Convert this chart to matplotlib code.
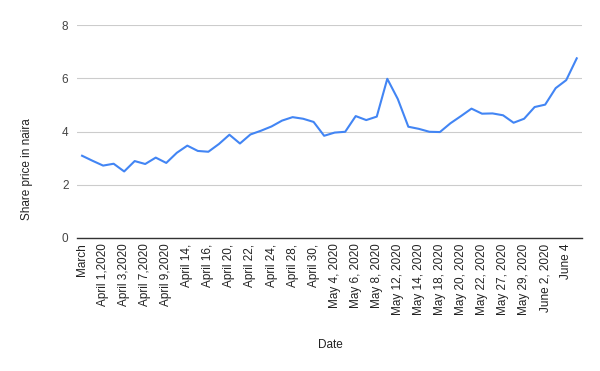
import matplotlib
matplotlib.use("Agg")
import matplotlib.pyplot as plt

# Share price data (one point per trading day)
dates = ["March", "", "April 1,2020", "", "April 3,2020", "", "April 7,2020", "",
         "April 9,2020", "", "April 14,", "", "April 16,", "", "April 20,", "",
         "April 22,", "", "April 24,", "", "April 28,", "", "April 30,", "",
         "May 4, 2020", "", "May 6, 2020", "", "May 8, 2020", "", "May 12, 2020", "",
         "May 14, 2020", "", "May 18, 2020", "", "May 20, 2020", "", "May 22, 2020", "",
         "May 27, 2020", "", "May 29, 2020", "", "June 2, 2020", "", "June 4", ""]
price = [3.09, 2.90, 2.72, 2.79, 2.50, 2.89, 2.78, 3.02, 2.82, 3.20, 3.47, 3.27,
         3.24, 3.53, 3.88, 3.55, 3.89, 4.03, 4.19, 4.41, 4.54, 4.48, 4.36, 3.84,
         3.96, 3.99, 4.58, 4.43, 4.56, 5.98, 5.22, 4.18, 4.10, 3.99, 3.98, 4.31,
         4.58, 4.86, 4.67, 4.68, 4.61, 4.33, 4.48, 4.92, 5.01, 5.63, 5.93, 6.75]

plt.rcParams['font.family'] = ['Liberation Sans', 'DejaVu Sans']

fig = plt.figure(figsize=(6, 3.71), dpi=100)
ax = fig.add_axes([0.128, 0.3585, 0.842, 0.574])

x = list(range(len(price)))
ax.plot(x, price, color="#4285F4", linewidth=1.5)

ax.set_xlim(-0.5, len(price) - 0.5)
ax.set_ylim(0, 8)
ax.set_yticks([0, 2, 4, 6, 8])
ax.grid(axis="y", color="#cccccc", linewidth=0.8)
ax.set_axisbelow(True)

# only every other date is labelled
ax.set_xticks(x[::2])
ax.set_xticklabels(dates[::2], rotation=90, fontsize=8.5, color="#222222")
ax.tick_params(axis="x", length=0, pad=4)
ax.tick_params(axis="y", length=0, pad=6, labelsize=8.5, labelcolor="#444444")

for s in ["top", "right", "left"]:
    ax.spines[s].set_visible(False)
ax.spines["bottom"].set_color("#333333")
ax.spines["bottom"].set_linewidth(1)

fig.text(0.045, (371 - 169) / 371, "Share price in naira", rotation=90,
         ha="center", va="center", fontsize=8.5, color="#222222")
fig.text(0.55, 0.07, "Date", ha="center", va="center", fontsize=8.5, color="#222222")

fig.savefig("out.png", dpi=100)
